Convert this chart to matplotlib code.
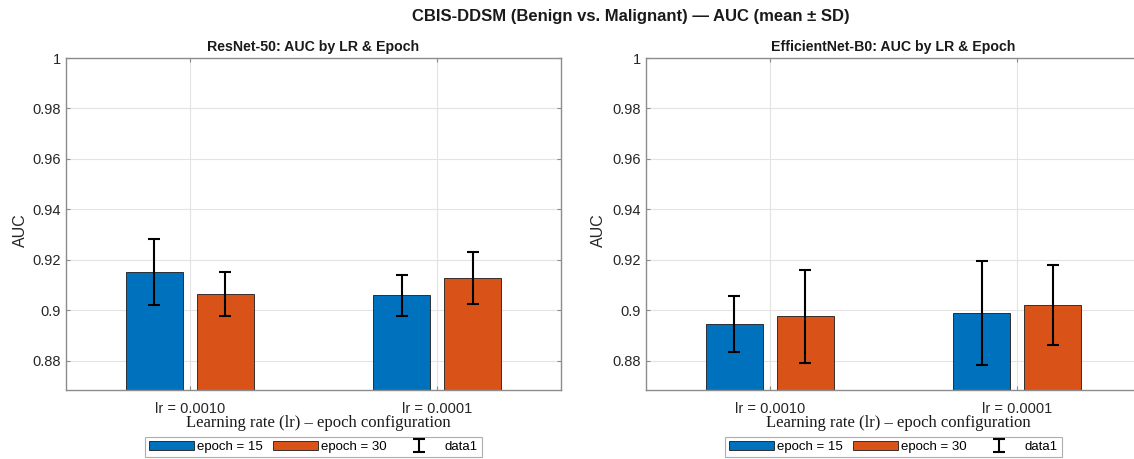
import matplotlib
matplotlib.use("Agg")
import matplotlib.pyplot as plt
import numpy as np

# ---- data ----
groups = ["lr = 0.0010", "lr = 0.0001"]
series_labels = ["epoch = 15", "epoch = 30"]

resnet_e15_mean = [0.9152, 0.9060]
resnet_e15_sd = [0.0132, 0.0082]
resnet_e30_mean = [0.9066, 0.9127]
resnet_e30_sd = [0.0087, 0.0103]

effnet_e15_mean = [0.8947, 0.8989]
effnet_e15_sd = [0.0112, 0.0205]
effnet_e30_mean = [0.8977, 0.9021]
effnet_e30_sd = [0.0184, 0.0159]

yticks = [0.88, 0.90, 0.92, 0.94, 0.96, 0.98, 1.00]
ytick_labels = ["0.88", "0.9", "0.92", "0.94", "0.96", "0.98", "1"]

plt.rcParams['font.family'] = ['Liberation Sans', 'DejaVu Sans']

BLUE = "#0072BD"
ORANGE = "#D95319"
SPINE = "#8c8c8c"
TXT = "#262626"

fig = plt.figure(figsize=(11.34, 4.59), dpi=100)
H = 459.0
W = 1134.0
ax_bottom = (H - 389.7) / H
ax_height = (389.7 - 58.0) / H
ax_w = 495.0 / W
axL = fig.add_axes([66.0 / W, ax_bottom, ax_w, ax_height])
axR = fig.add_axes([646.0 / W, ax_bottom, ax_w, ax_height])

panels = [
    (axL, "ResNet-50: AUC by LR & Epoch", resnet_e15_mean, resnet_e15_sd,
     resnet_e30_mean, resnet_e30_sd, -0.077),
    (axR, "EfficientNet-B0: AUC by LR & Epoch", effnet_e15_mean, effnet_e15_sd,
     effnet_e30_mean, effnet_e30_sd, -0.081),
]

x = np.arange(1, len(groups) + 1)
width = 0.23
off = 0.144

for ax, title, m15, s15, m30, s30, ylx in panels:
    b1 = ax.bar(x - off, m15, width, color=BLUE, edgecolor="#1a1a1a",
                linewidth=0.6, label=series_labels[0], zorder=2)
    b2 = ax.bar(x + off, m30, width, color=ORANGE, edgecolor="#1a1a1a",
                linewidth=0.6, label=series_labels[1], zorder=2)
    xe = np.concatenate([x - off, x + off])
    me = np.concatenate([m15, m30])
    se = np.concatenate([s15, s30])
    eb = ax.errorbar(xe, me, yerr=se, fmt='none', ecolor='black',
                     elinewidth=1.5, capsize=4, capthick=1.5,
                     label="data1", zorder=3)
    ax.set_xlim(0.5, 2.5)
    ax.set_ylim(0.8686, 1.0)
    ax.set_xticks(x)
    ax.set_xticklabels(groups)
    ax.set_yticks(yticks)
    ax.set_yticklabels(ytick_labels)
    ax.grid(True, color="#e3e3e3", linewidth=0.8, zorder=0)
    ax.set_axisbelow(True)
    for sp in ax.spines.values():
        sp.set_color(SPINE)
        sp.set_linewidth(1.0)
    ax.tick_params(direction='in', length=3, width=0.8, color=SPINE,
                   labelcolor=TXT, labelsize=10.5, top=True, right=True)
    ax.tick_params(axis='y', pad=3.5)
    ax.tick_params(axis='x', pad=9)
    ax.set_title(title, fontsize=10.2, fontweight='bold', pad=5,
                 color="#1a1a1a")
    ax.set_xlabel("Learning rate (lr) \u2013 epoch configuration",
                  fontsize=12, family=['Liberation Serif', 'DejaVu Serif'],
                  color="#1a1a1a")
    ax.xaxis.set_label_coords(0.51, -0.077)
    ax.set_ylabel("AUC", fontsize=11.5, color=TXT)
    ax.yaxis.set_label_coords(ylx, 0.48)
    leg = ax.legend(handles=[b1, b2, eb], labels=[series_labels[0], series_labels[1], "data1"],
                    loc='center', bbox_to_anchor=(0.5, -0.172), ncol=3,
                    fontsize=9.5, frameon=True, fancybox=False, handlelength=3.4,
                    handleheight=0.7, handletextpad=0.25, columnspacing=0.75,
                    borderpad=0.3, borderaxespad=0)
    leg.get_frame().set_edgecolor("#9a9a9a")
    leg.get_frame().set_linewidth(0.8)

fig.suptitle("CBIS-DDSM (Benign vs. Malignant) \u2014 AUC (mean \u00b1 SD)",
             fontsize=12, fontweight='bold', x=631 / W, y=1 - 16 / H,
             va='center', color="#1a1a1a")

fig.savefig("out.png", dpi=100)
